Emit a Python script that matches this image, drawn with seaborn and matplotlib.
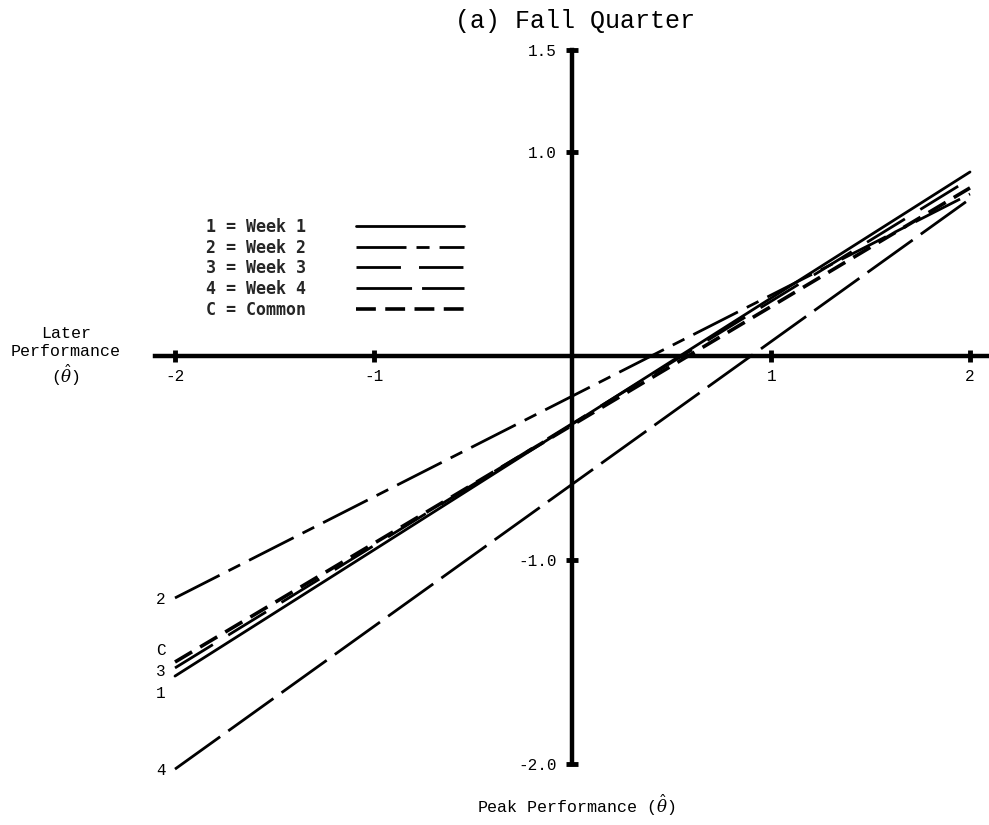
import numpy as np
import pandas as pd
import matplotlib
matplotlib.use("Agg")
import matplotlib.pyplot as plt
import seaborn as sns

# ---- data ----
series = ["1 = Week 1", "2 = Week 2", "3 = Week 3", "4 = Week 4", "C = Common"]
end_labels = ["1", "2", "3", "4", "C"]
x_ends = [-2.0, 2.0]
y_left = [-1.569, -1.186, -1.529, -2.025, -1.50]
y_right = [0.902, 0.794, 0.868, 0.770, 0.824]
xtick_vals = [-2, -1, 1, 2]
xtick_labels = ["-2", "-1", "1", "2"]
ytick_vals = [1.5, 1.0, -1.0, -2.0]
ytick_labels = ["1.5", "1.0", "-1.0", "-2.0"]

rows = []
for s, yl, yr in zip(series, y_left, y_right):
    rows.append({"series": s, "x": x_ends[0], "y": yl})
    rows.append({"series": s, "x": x_ends[1], "y": yr})
df = pd.DataFrame(rows)

sns.set_theme(style="white")
plt.rcParams['font.family'] = ['Liberation Mono', 'DejaVu Sans Mono']
plt.rcParams['mathtext.fontset'] = 'dejavuserif'

fig = plt.figure(figsize=(9.89, 8.25), dpi=100)
ax = fig.add_axes([0, 0, 1, 1])
ax.set_facecolor('white')

dashes = {
    "1 = Week 1": "",
    "2 = Week 2": (18, 3.6, 4.7, 3.6),
    "3 = Week 3": (16, 6.5),
    "4 = Week 4": (20, 3.6),
    "C = Common": (5.5, 2.6),
}
sizes = {
    "1 = Week 1": 2.0,
    "2 = Week 2": 2.0,
    "3 = Week 3": 2.0,
    "4 = Week 4": 2.0,
    "C = Common": 2.6,
}
sns.lineplot(data=df, x="x", y="y", style="series", size="series",
             dashes=dashes, sizes=sizes, color="black", legend=False,
             ax=ax, estimator=None, sort=False)

ax.set_xlim(-2.8805, 2.0956)
ax.set_ylim(-2.299, 1.745)
ax.set_xlabel("")
ax.set_ylabel("")
ax.grid(False)

for side in ["top", "right"]:
    ax.spines[side].set_visible(False)
ax.spines['left'].set_position(('data', 0))
ax.spines['bottom'].set_position(('data', 0))
ax.spines['left'].set_bounds(-2.0, 1.5)
ax.spines['bottom'].set_bounds(-2.1, 2.2)
for side in ["left", "bottom"]:
    ax.spines[side].set_linewidth(3.2)
    ax.spines[side].set_color('black')

ax.set_xticks(xtick_vals, xtick_labels)
ax.set_yticks(ytick_vals, ytick_labels)
ax.tick_params(axis='both', direction='inout', length=9, width=3.5,
               colors='black', labelsize=11.5, bottom=True, left=True)
ax.tick_params(axis='x', pad=5)
ax.tick_params(axis='y', pad=7)

# end labels
offsets = {"1": -12.2, "2": -1.4, "3": -2.9, "4": -0.7, "C": 8.6}
for lbl, yl in zip(end_labels, y_left):
    ax.annotate(lbl, xy=(x_ends[0], yl), xytext=(-10, offsets[lbl]),
                textcoords='offset points', ha='center', va='center',
                fontsize=11.5, color='black')

# legend
handles = ax.get_lines()[:len(series)]
leg = ax.legend(handles, series, loc='upper left',
                bbox_to_anchor=(206 / 989, 1 - 218 / 825),
                bbox_transform=fig.transFigure, markerfirst=False,
                frameon=False, handlelength=6.5, handletextpad=3.0,
                labelspacing=0.16, borderpad=0, borderaxespad=0,
                prop={'family': 'DejaVu Sans Mono', 'weight': 'bold', 'size': 12})

fig.text(575 / 989, 1 - 21 / 825, "(a) Fall Quarter", ha='center', va='center',
         fontsize=18, color='black')
fig.text(66 / 989, 1 - 357 / 825, "Later\nPerformance\n($\\hat{\\theta}$)",
         ha='center', va='center', fontsize=12, linespacing=1.2, color='black')
fig.text(576 / 989, 1 - 805 / 825, "Peak Performance ($\\hat{\\theta}$)",
         ha='center', va='center', fontsize=12, color='black')

fig.savefig("out.png", dpi=100, facecolor='white')
